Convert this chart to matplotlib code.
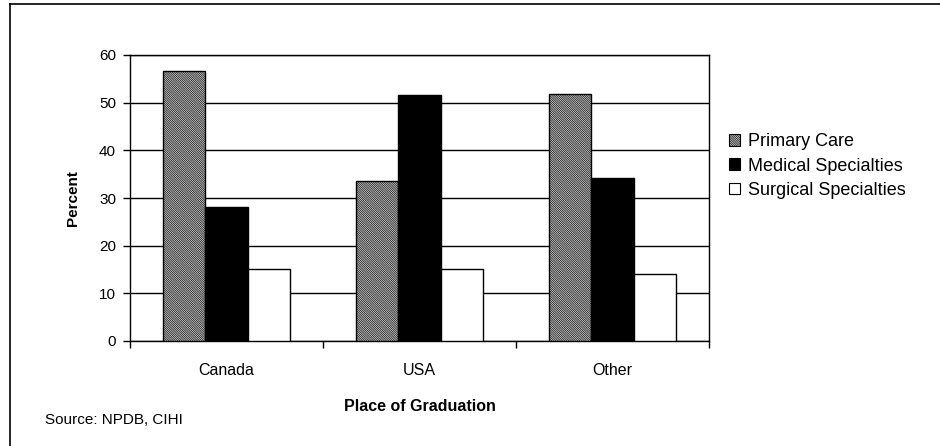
import numpy as np
import matplotlib
matplotlib.use("Agg")
import matplotlib.pyplot as plt
from matplotlib.patches import Patch
from matplotlib.lines import Line2D

plt.rcParams["font.family"] = ["Liberation Sans", "DejaVu Sans"]
plt.rcParams["hatch.linewidth"] = 0.5

# Share of physicians by specialty group and place of graduation (%)
places = ["Canada", "USA", "Other"]
primary_care = [56.6, 33.5, 51.9]
medical_spec = [28.2, 51.7, 34.3]
surgical_spec = [15.2, 15.2, 14.0]
series_names = ["Primary Care", "Medical Specialties", "Surgical Specialties"]
y_ticks = [0, 10, 20, 30, 40, 50, 60]

fig = plt.figure(figsize=(9.4, 4.46), dpi=100)
ax = fig.add_axes([130 / 940, 1 - 341 / 446, 579 / 940, 286 / 446])

x = np.arange(len(places))
w = 0.22
styles = [
    dict(facecolor="white", hatch="\\" * 18),
    dict(facecolor="black"),
    dict(facecolor="white"),
]
for i, (vals, st) in enumerate(zip([primary_care, medical_spec, surgical_spec], styles)):
    ax.bar(x + (i - 1) * w, vals, width=w, edgecolor="black", linewidth=1.0,
           zorder=3, **st)

ax.set_xlim(-0.5, 2.5)
ax.set_ylim(0, 60)
ax.set_yticks(y_ticks)
ax.yaxis.grid(True, color="black", linewidth=1.0, zorder=0)
ax.set_axisbelow(True)

# category labels centred, ticks on the boundaries between categories
ax.set_xticks([-0.5, 0.5, 1.5, 2.5])
ax.set_xticklabels([])
ax.set_xticks(x, minor=True)
ax.set_xticklabels(places, minor=True, fontsize=11.5)
ax.tick_params(axis="x", which="minor", length=0, pad=16)
ax.tick_params(axis="x", which="major", length=5, width=1, direction="out", color="black")
ax.tick_params(axis="y", length=5, width=1, direction="out", labelsize=11, pad=5)
for sp in ax.spines.values():
    sp.set_color("black")
    sp.set_linewidth(1.0)

ax.set_ylabel("Percent", fontsize=11, fontweight="bold", labelpad=14)
ax.set_xlabel("Place of Graduation", fontsize=11.5, fontweight="bold", labelpad=15)

handles = [Patch(edgecolor="black", linewidth=0.8, **st) for st in styles]
fig.legend(handles, series_names, loc="upper left", bbox_to_anchor=(0.768, 0.717),
           frameon=False, fontsize=13, handlelength=0.62, handleheight=0.62,
           handletextpad=0.4, labelspacing=0.4, borderaxespad=0)

fig.text(45 / 940, 1 - 420 / 446, "Source: NPDB, CIHI", fontsize=11, va="center")

# outer chart border
fig.add_artist(Line2D([10 / 940, 1.0], [1 - 4 / 446, 1 - 4 / 446], color="black",
                      linewidth=1.2, transform=fig.transFigure))
fig.add_artist(Line2D([10 / 940, 10 / 940], [0.0, 1 - 4 / 446], color="black",
                      linewidth=1.2, transform=fig.transFigure))

fig.savefig("out.png", dpi=100)
